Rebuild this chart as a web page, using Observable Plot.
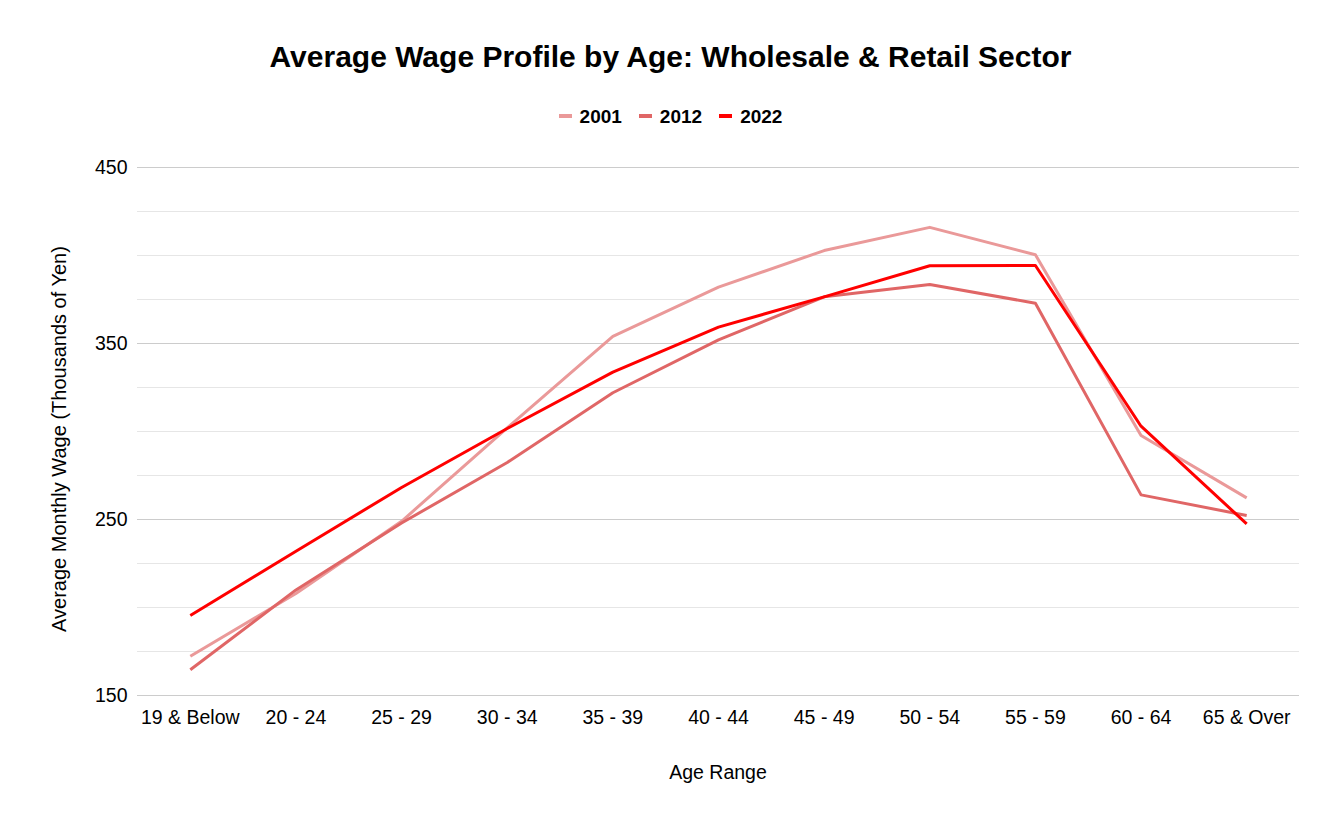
<!DOCTYPE html>
<html>
<head>
<meta charset="utf-8">
<script src="https://cdn.jsdelivr.net/npm/d3@7"></script>
<script src="https://cdn.jsdelivr.net/npm/@observablehq/plot@0.6"></script>
<style>
  html, body { margin: 0; padding: 0; background: #fff; }
  #wrap { position: relative; width: 1341px; height: 825px; font-family: "Liberation Sans", Arial, sans-serif; color: #000; }
  #wrap svg { position: absolute; left: 0; top: 0; }
  .title { position: absolute; left: 0; width: 1341px; top: 41.6px; text-align: center; font-size: 30px; line-height: 30px; font-weight: bold; white-space: nowrap; }
  .legend { position: absolute; left: 0; width: 1341px; top: 106.9px; height: 19px; display: flex; justify-content: center; align-items: center; font-size: 19px; line-height: 19px; font-weight: bold; }
  .legend .item { display: flex; align-items: center; margin: 0 8.5px; }
  .legend .sw { width: 13px; height: 4px; margin-right: 8px; }
  .xtitle { position: absolute; left: 468px; width: 500px; top: 762.5px; text-align: center; font-size: 19.5px; line-height: 19.5px; white-space: nowrap; }
  .ytitle { position: absolute; width: 600px; left: -241.5px; top: 429px; text-align: center; font-size: 20px; line-height: 20px; white-space: nowrap; transform: rotate(-90deg); transform-origin: 50% 50%; }
</style>
</head>
<body>
<div id="wrap">
  <div class="title">Average Wage Profile by Age: Wholesale &amp; Retail Sector</div>
  <div class="legend" id="legend"></div>
  <div class="xtitle">Age Range</div>
  <div class="ytitle">Average Monthly Wage (Thousands of Yen)</div>
</div>
<script>
const ages = ["19 & Below", "20 - 24", "25 - 29", "30 - 34", "35 - 39", "40 - 44", "45 - 49", "50 - 54", "55 - 59", "60 - 64", "65 & Over"];
const years = ["2001", "2012", "2022"];
const colors = ["#ea9999", "#e06666", "#ff0000"];
const wage2001 = [172.3, 208, 249, 302, 354, 382, 402.8, 416, 400.4, 297.7, 262.3];
const wage2012 = [164.6, 210, 248, 282.4, 322, 352.1, 376.5, 383.5, 372.9, 264, 252.3];
const wage2022 = [195.5, 232, 268.2, 301.7, 333.7, 359.3, 376.5, 394.2, 394.3, 303, 247.5];
const majorTicks = [150, 250, 350, 450];
const minorTicks = [175, 200, 225, 275, 300, 325, 375, 400, 425];

const seriesValues = [wage2001, wage2012, wage2022];
const data = [];
years.forEach((yr, i) => {
  ages.forEach((a, j) => data.push({age: a, value: seriesValues[i][j], series: yr}));
});

const chart = Plot.plot({
  width: 1341,
  height: 825,
  marginLeft: 137,
  marginRight: 42,
  marginTop: 167,
  marginBottom: 130,
  style: {fontFamily: '"Liberation Sans", Arial, sans-serif', fontSize: "19.5px", color: "#000", background: "transparent", overflow: "visible"},
  x: {type: "point", domain: ages, padding: 0.5, round: false},
  y: {domain: [150, 450]},
  color: {domain: years, range: colors},
  marks: [
    Plot.gridY(minorTicks, {stroke: "#e6e6e6", strokeOpacity: 1, strokeWidth: 1}),
    Plot.gridY(majorTicks, {stroke: "#cccccc", strokeOpacity: 1, strokeWidth: 1}),
    Plot.axisX({tickSize: 0, tickPadding: 15, fontSize: 19.5, label: null}),
    Plot.axisY({ticks: majorTicks, tickSize: 0, tickPadding: 10, fontSize: 19.5, label: null}),
    Plot.line(data, {x: "age", y: "value", z: "series", stroke: "series", strokeWidth: 3, strokeLinejoin: "round", strokeLinecap: "butt"})
  ]
});
document.getElementById("wrap").prepend(chart);

const legend = document.getElementById("legend");
years.forEach((yr, i) => {
  const item = document.createElement("div");
  item.className = "item";
  const sw = document.createElement("span");
  sw.className = "sw";
  sw.style.background = colors[i];
  const t = document.createElement("span");
  t.textContent = yr;
  item.appendChild(sw);
  item.appendChild(t);
  legend.appendChild(item);
});
</script>
</body>
</html>
